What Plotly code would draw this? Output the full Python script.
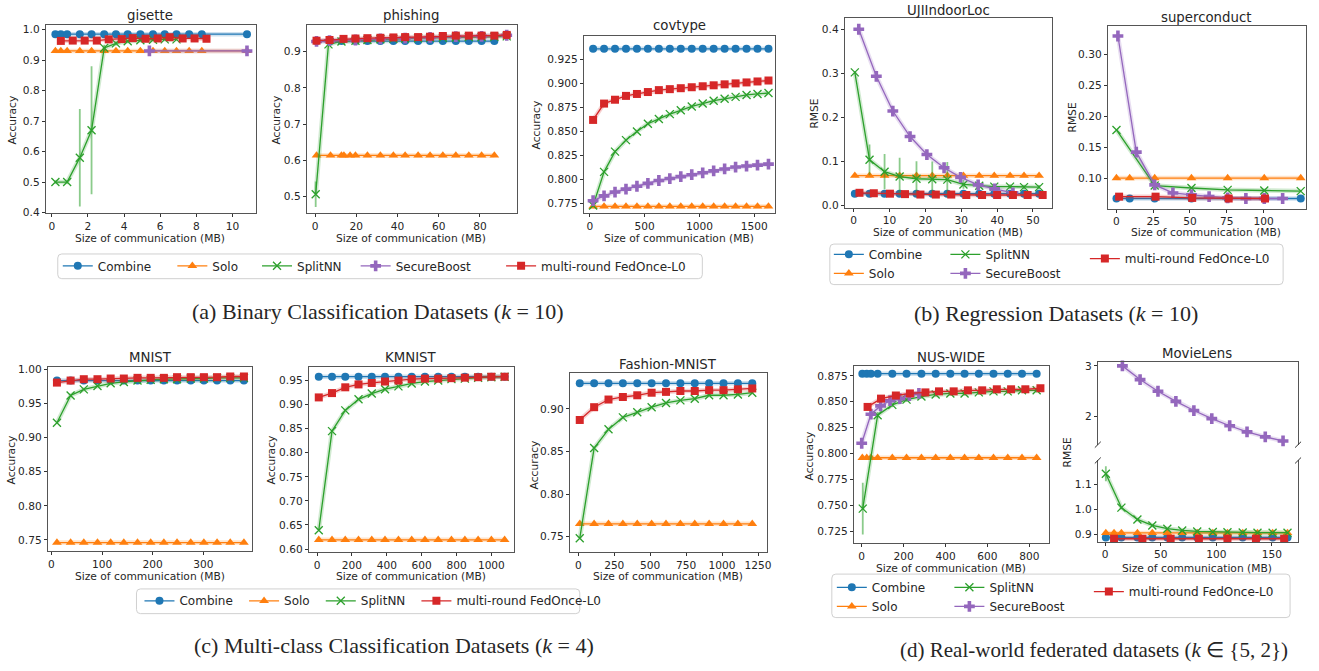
import plotly.graph_objects as go

W, H = 1319, 671
FONT = "DejaVu Sans"
SERIF = "Liberation Serif"
TXT = "#262626"

# ======================= data =======================
# ---- gisette ----
gisette_combine_x = [0.2, 0.5, 0.85, 1.55, 2.2, 2.9, 3.55, 4.2, 4.9, 5.6, 6.25, 6.9, 7.6, 8.3, 10.8]
gisette_combine_y = [0.985, 0.985, 0.985, 0.985, 0.985, 0.985, 0.985, 0.985, 0.985, 0.985, 0.985, 0.985, 0.985, 0.985, 0.985]
gisette_solo_x = [0.2, 0.5, 0.85, 1.55, 2.2, 2.9, 3.55, 4.2, 4.9, 5.6, 6.25, 6.9, 7.6, 8.3, 10.8]
gisette_solo_y = [0.93, 0.93, 0.93, 0.93, 0.93, 0.93, 0.93, 0.93, 0.93, 0.93, 0.93, 0.93, 0.93, 0.93, 0.93]
gisette_splitnn_x = [0.2, 0.85, 1.55, 2.2, 2.9, 3.55, 4.2, 4.9, 5.6, 6.25, 6.9]
gisette_splitnn_y = [0.5, 0.5, 0.58, 0.67, 0.94, 0.955, 0.962, 0.965, 0.967, 0.968, 0.968]
gisette_splitnn_err = [0.005, 0.005, 0.16, 0.21, 0.01, 0.006, 0.005, 0.005, 0.004, 0.004, 0.004]
gisette_secureboost_x = [5.4, 10.8]
gisette_secureboost_y = [0.93, 0.93]
gisette_fedonce_x = [0.5, 1.16, 1.82, 2.49, 3.15, 3.87, 4.48, 5.19, 5.86, 6.52, 7.24, 7.9, 8.56]
gisette_fedonce_y = [0.963, 0.964, 0.964, 0.964, 0.968, 0.969, 0.972, 0.970, 0.971, 0.975, 0.971, 0.971, 0.970]

# ---- phishing ----
phishing_combine_x = [0.7, 7.5, 12.8, 19.6, 25.4, 31.7, 38, 43.7, 50, 55.8, 62, 68.3, 74.6, 80.8, 87]
phishing_combine_y = [0.929, 0.929, 0.929, 0.929, 0.929, 0.929, 0.929, 0.929, 0.929, 0.929, 0.929, 0.929, 0.929, 0.929, 0.929]
phishing_solo_x = [0.7, 7.5, 12.8, 14, 17, 19.6, 25.4, 31.7, 38, 43.7, 50, 55.8, 62, 68.3, 74.6, 80.8, 87]
phishing_solo_y = [0.614, 0.614, 0.614, 0.614, 0.614, 0.614, 0.614, 0.614, 0.614, 0.614, 0.614, 0.614, 0.614, 0.614, 0.614, 0.614, 0.614]
phishing_splitnn_x = [0.3, 6.5, 12.8, 19.6, 25.4, 31.7, 38, 43.7, 50, 55.8, 62, 68.3, 74.6, 80.8, 87, 93]
phishing_splitnn_y = [0.507, 0.92, 0.928, 0.93, 0.932, 0.934, 0.935, 0.936, 0.937, 0.938, 0.938, 0.939, 0.94, 0.94, 0.941, 0.942]
phishing_splitnn_err = [0.035, 0.005, 0.003, 0.003, 0.003, 0.003, 0.003, 0.003, 0.003, 0.003, 0.003, 0.003, 0.003, 0.003, 0.003, 0.003]
phishing_secureboost_x = [0.7, 7, 19.6, 31.7, 43.7, 55.8, 68.3, 80.8, 93]
phishing_secureboost_y = [0.928, 0.93, 0.932, 0.935, 0.937, 0.939, 0.941, 0.942, 0.945]
phishing_fedonce_x = [0.7, 7, 13.8, 19.6, 25.4, 31.7, 38, 43.7, 50, 55.8, 62, 68.3, 74.6, 80.8, 87, 93]
phishing_fedonce_y = [0.93, 0.932, 0.935, 0.936, 0.937, 0.938, 0.939, 0.94, 0.94, 0.941, 0.943, 0.944, 0.944, 0.944, 0.944, 0.946]

# ---- covtype ----
covtype_x = [30, 130, 230, 330, 430, 530, 630, 730, 830, 930, 1030, 1130, 1230, 1330, 1430, 1530, 1630]
covtype_combine_y = [0.936, 0.936, 0.936, 0.936, 0.936, 0.936, 0.936, 0.936, 0.936, 0.936, 0.936, 0.936, 0.936, 0.936, 0.936, 0.936, 0.936]
covtype_solo_y = [0.772, 0.772, 0.772, 0.772, 0.772, 0.772, 0.772, 0.772, 0.772, 0.772, 0.772, 0.772, 0.772, 0.772, 0.772, 0.772, 0.772]
covtype_splitnn_y = [0.773, 0.808, 0.829, 0.841, 0.850, 0.858, 0.863, 0.868, 0.872, 0.876, 0.879, 0.882, 0.884, 0.886, 0.888, 0.889, 0.890]
covtype_secureboost_y = [0.778, 0.783, 0.787, 0.790, 0.793, 0.796, 0.799, 0.801, 0.803, 0.805, 0.807, 0.809, 0.811, 0.813, 0.814, 0.815, 0.816]
covtype_fedonce_y = [0.862, 0.879, 0.883, 0.887, 0.889, 0.891, 0.893, 0.894, 0.895, 0.896, 0.897, 0.898, 0.899, 0.900, 0.901, 0.902, 0.903]

# ---- UJIIndoorLoc ----
uji_x = [0.3, 4.4, 8.6, 12.8, 17.5, 21.9, 26.1, 30.6, 35.0, 39.2, 43.6, 47.5, 51.7]
uji_combine_y = [0.027, 0.027, 0.027, 0.027, 0.027, 0.027, 0.027, 0.027, 0.027, 0.027, 0.027, 0.027, 0.027]
uji_solo_y = [0.068, 0.068, 0.068, 0.068, 0.068, 0.068, 0.068, 0.068, 0.068, 0.068, 0.068, 0.068, 0.068]
uji_splitnn_y = [0.303, 0.104, 0.077, 0.066, 0.061, 0.060, 0.059, 0.048, 0.045, 0.043, 0.043, 0.042, 0.042]
uji_splitnn_err = [0.003, 0.035, 0.04, 0.043, 0.04, 0.04, 0.04, 0.01, 0.008, 0.006, 0.005, 0.005, 0.005]
uji_secureboost_x = [1.4, 6.3, 10.9, 15.7, 20.4, 25.2, 29.8, 34.7, 39.3, 44.4]
uji_secureboost_y = [0.401, 0.294, 0.215, 0.157, 0.116, 0.086, 0.064, 0.047, 0.038, 0.029]
uji_fedonce_x = [1.6, 5.6, 10.1, 14.3, 18.6, 22.9, 27.2, 31.4, 35.8, 40.0, 44.4, 48.5, 52.7]
uji_fedonce_y = [0.029, 0.028, 0.027, 0.026, 0.025, 0.025, 0.025, 0.024, 0.024, 0.024, 0.024, 0.024, 0.024]

# ---- superconduct ----
sc_x = [0, 9, 26, 51, 75.6, 100.5, 125.3]
sc_combine_y = [0.067, 0.067, 0.067, 0.067, 0.067, 0.067, 0.067]
sc_solo_y = [0.10, 0.10, 0.10, 0.10, 0.10, 0.10, 0.10]
sc_splitnn_x = [0, 26, 51, 75.6, 100.5, 125.3]
sc_splitnn_y = [0.178, 0.088, 0.084, 0.081, 0.080, 0.079]
sc_secureboost_x = [1, 13.5, 26, 38.4, 51, 63, 75.6, 88, 100.5, 113]
sc_secureboost_y = [0.33, 0.142, 0.089, 0.076, 0.073, 0.070, 0.068, 0.067, 0.067, 0.067]
sc_fedonce_x = [1.8, 26.6, 51.5, 76.3, 101]
sc_fedonce_y = [0.070, 0.070, 0.068, 0.067, 0.067]

# ---- MNIST ----
mnist_x = [11, 38, 64, 91, 117, 143, 170, 196, 222, 248, 275, 301, 327, 353, 380]
mnist_combine_y = [0.984, 0.984, 0.984, 0.984, 0.984, 0.984, 0.984, 0.984, 0.984, 0.984, 0.984, 0.984, 0.984, 0.984, 0.984]
mnist_solo_y = [0.746, 0.746, 0.746, 0.746, 0.746, 0.746, 0.746, 0.746, 0.746, 0.746, 0.746, 0.746, 0.746, 0.746, 0.746]
mnist_splitnn_y = [0.922, 0.962, 0.971, 0.976, 0.980, 0.982, 0.984, 0.985, 0.986, 0.986, 0.987, 0.987, 0.988, 0.988, 0.988]
mnist_fedonce_y = [0.981, 0.984, 0.986, 0.986, 0.987, 0.987, 0.988, 0.988, 0.988, 0.989, 0.989, 0.989, 0.989, 0.990, 0.990]

# ---- KMNIST ----
kmnist_x = [10, 86, 162, 238, 314, 390, 467, 543, 619, 695, 771, 848, 924, 1000, 1076]
kmnist_combine_y = [0.958, 0.958, 0.958, 0.958, 0.958, 0.958, 0.958, 0.958, 0.958, 0.958, 0.958, 0.958, 0.958, 0.958, 0.958]
kmnist_solo_y = [0.619, 0.619, 0.619, 0.619, 0.619, 0.619, 0.619, 0.619, 0.619, 0.619, 0.619, 0.619, 0.619, 0.619, 0.619]
kmnist_splitnn_y = [0.639, 0.845, 0.888, 0.911, 0.923, 0.932, 0.938, 0.944, 0.948, 0.950, 0.953, 0.954, 0.956, 0.957, 0.958]
kmnist_fedonce_y = [0.915, 0.924, 0.936, 0.942, 0.945, 0.948, 0.950, 0.953, 0.954, 0.954, 0.955, 0.956, 0.957, 0.958, 0.958]

# ---- Fashion-MNIST ----
fmnist_x = [10, 110, 210, 310, 410, 510, 610, 710, 810, 910, 1010, 1110, 1210]
fmnist_combine_y = [0.930, 0.930, 0.930, 0.930, 0.930, 0.930, 0.930, 0.930, 0.930, 0.930, 0.930, 0.930, 0.930]
fmnist_solo_y = [0.765, 0.765, 0.765, 0.765, 0.765, 0.765, 0.765, 0.765, 0.765, 0.765, 0.765, 0.765, 0.765]
fmnist_splitnn_y = [0.748, 0.854, 0.876, 0.890, 0.896, 0.902, 0.907, 0.910, 0.912, 0.916, 0.916, 0.917, 0.919]
fmnist_fedonce_y = [0.887, 0.902, 0.911, 0.914, 0.916, 0.919, 0.920, 0.921, 0.921, 0.922, 0.922, 0.923, 0.924]

# ---- NUS-WIDE ----
nus_x = [3, 24, 44, 76, 146, 214, 285, 353, 423, 491, 559, 629, 697, 765, 835]
nus_combine_y = [0.877, 0.877, 0.877, 0.877, 0.877, 0.877, 0.877, 0.877, 0.877, 0.877, 0.877, 0.877, 0.877, 0.877, 0.877]
nus_solo_y = [0.796, 0.796, 0.796, 0.796, 0.796, 0.796, 0.796, 0.796, 0.796, 0.796, 0.796, 0.796, 0.796, 0.796, 0.796]
nus_splitnn_x = [5, 76, 146, 214, 285, 353, 423, 491, 559, 629, 697, 765, 835]
nus_splitnn_y = [0.747, 0.837, 0.847, 0.852, 0.855, 0.857, 0.858, 0.858, 0.859, 0.860, 0.860, 0.861, 0.861]
nus_splitnn_err = [0.025, 0.003, 0.002, 0.002, 0.002, 0.002, 0.002, 0.002, 0.002, 0.002, 0.002, 0.002, 0.002]
nus_secureboost_x = [0, 44, 90, 135, 182, 227, 273]
nus_secureboost_y = [0.810, 0.838, 0.846, 0.851, 0.853, 0.856, 0.858]
nus_fedonce_x = [28, 92, 163, 230, 304, 369, 439, 507, 575, 645, 713, 781, 853]
nus_fedonce_y = [0.845, 0.853, 0.856, 0.858, 0.859, 0.860, 0.860, 0.861, 0.861, 0.862, 0.862, 0.862, 0.863]

# ---- MovieLens ----
ml_secureboost_x = [15.5, 31.4, 47.5, 63.6, 79.8, 95.9, 112, 127.6, 144, 160]
ml_secureboost_y = [3.0, 2.73, 2.5, 2.3, 2.12, 1.96, 1.82, 1.70, 1.60, 1.52]
ml_splitnn_x = [0.6, 14.6, 29, 42.4, 55.9, 69.3, 82.8, 96.8, 110, 123.7, 137, 150.6, 164]
ml_splitnn_y = [1.143, 1.008, 0.961, 0.937, 0.924, 0.917, 0.913, 0.911, 0.910, 0.909, 0.908, 0.908, 0.908]
ml_splitnn_err = [0.03, 0.006, 0.004, 0.003, 0.003, 0.002, 0.002, 0.002, 0.002, 0.002, 0.002, 0.002, 0.002]
ml_solo_x = [0.6, 8, 14.6, 29, 42.4, 55.9, 69.3, 82.8, 96.8, 110, 123.7, 137, 150.6, 164]
ml_solo_y = [0.907, 0.907, 0.907, 0.907, 0.907, 0.907, 0.907, 0.907, 0.907, 0.907, 0.907, 0.907, 0.907, 0.907]
ml_combine_x = [0.6, 14.6, 29, 42.4, 55.9, 69.3, 82.8, 96.8, 110, 123.7, 137, 150.6, 164]
ml_combine_y = [0.889, 0.889, 0.889, 0.889, 0.889, 0.889, 0.889, 0.889, 0.889, 0.889, 0.889, 0.889, 0.889]
ml_fedonce_x = [8, 33.5, 58.9, 84.3, 110, 135.6, 161]
ml_fedonce_y = [0.884, 0.884, 0.884, 0.884, 0.884, 0.884, 0.884]

# ---- tick labels ----
gis_xt = [0, 2, 4, 6, 8, 10]
gis_yt = [0.4, 0.5, 0.6, 0.7, 0.8, 0.9, 1.0]
gis_ytt = ["0.4", "0.5", "0.6", "0.7", "0.8", "0.9", "1.0"]
phi_xt = [0, 20, 40, 60, 80]
phi_yt = [0.5, 0.6, 0.7, 0.8, 0.9]
phi_ytt = ["0.5", "0.6", "0.7", "0.8", "0.9"]
cov_xt = [0, 500, 1000, 1500]
cov_yt = [0.775, 0.8, 0.825, 0.85, 0.875, 0.9, 0.925]
cov_ytt = ["0.775", "0.800", "0.825", "0.850", "0.875", "0.900", "0.925"]
uji_xt = [0, 10, 20, 30, 40, 50]
uji_yt = [0.0, 0.1, 0.2, 0.3, 0.4]
uji_ytt = ["0.0", "0.1", "0.2", "0.3", "0.4"]
sc_xt = [0, 25, 50, 75, 100]
sc_yt = [0.10, 0.15, 0.20, 0.25, 0.30]
sc_ytt = ["0.10", "0.15", "0.20", "0.25", "0.30"]
mn_xt = [0, 100, 200, 300]
mn_yt = [0.75, 0.80, 0.85, 0.90, 0.95, 1.00]
mn_ytt = ["0.75", "0.80", "0.85", "0.90", "0.95", "1.00"]
km_xt = [0, 200, 400, 600, 800, 1000]
km_yt = [0.60, 0.65, 0.70, 0.75, 0.80, 0.85, 0.90, 0.95]
km_ytt = ["0.60", "0.65", "0.70", "0.75", "0.80", "0.85", "0.90", "0.95"]
fm_xt = [0, 250, 500, 750, 1000, 1250]
fm_yt = [0.75, 0.80, 0.85, 0.90]
fm_ytt = ["0.75", "0.80", "0.85", "0.90"]
nus_xt = [0, 200, 400, 600, 800]
nus_yt = [0.725, 0.75, 0.775, 0.8, 0.825, 0.85, 0.875]
nus_ytt = ["0.725", "0.750", "0.775", "0.800", "0.825", "0.850", "0.875"]
ml_xt = [0, 50, 100, 150]
ml_top_yt = [2, 3]
ml_top_ytt = ["2", "3"]
ml_bot_yt = [0.9, 1.0, 1.1]
ml_bot_ytt = ["0.9", "1.0", "1.1"]

# ======================= styling =======================
STYLE = {
    "Combine": dict(color="#1f77b4", rgb="31,119,180", symbol="circle", size=8),
    "Solo": dict(color="#ff7f0e", rgb="255,127,14", symbol="triangle-up", size=8.5),
    "SplitNN": dict(color="#2ca02c", rgb="44,160,44", symbol="x-thin", size=8),
    "SecureBoost": dict(color="#9467bd", rgb="148,103,189", symbol="cross", size=9),
    "multi-round FedOnce-L0": dict(color="#d62728", rgb="214,39,40", symbol="square", size=8),
}


def fx(px):
    return px / W


def fy(py):
    return 1 - py / H


fig = go.Figure()
annotations = []
shapes = []
layout_axes = {}
layout_legends = {}


def ax_id(i):
    return "" if i == 1 else str(i)


def add_series(i, method, x, y, err=None, legend=None):
    st = STYLE[method]
    xa, ya = "x" + ax_id(i), "y" + ax_id(i)
    # faint band behind the line (shaded spread in the original)
    fig.add_trace(go.Scatter(x=x, y=y, mode="lines", xaxis=xa, yaxis=ya,
                             line=dict(color=f"rgba({st['rgb']},0.22)", width=4.5),
                             hoverinfo="skip", showlegend=False, cliponaxis=False))
    mk = dict(symbol=st["symbol"], size=st["size"], color=st["color"])
    if st["symbol"] == "x-thin":
        mk["line"] = dict(color=st["color"], width=1.3)
    else:
        mk["line"] = dict(width=0)
    kw = dict(x=x, y=y, mode="lines+markers", name=method, xaxis=xa, yaxis=ya,
              line=dict(color=st["color"], width=1.3), marker=mk,
              cliponaxis=False, showlegend=legend is not None,
              legend=legend if legend else "legend")
    if err is not None:
        kw["error_y"] = dict(type="data", array=err, visible=True,
                             color="rgba(44,160,44,0.55)", thickness=1.8, width=0)
    fig.add_trace(go.Scatter(**kw))


def add_axes(i, box, xr, yr, xtv, ytv, ytt, xside="bottom",
             xmirror=True, xticks=True, showxlabels=True):
    l, r, t, b = box
    tick = dict(ticks="outside", ticklen=3, tickwidth=0.8, tickcolor="#333",
                tickfont=dict(family=FONT, size=10.6, color=TXT),
                showgrid=False, zeroline=False, linecolor="#555", linewidth=1)
    xa = dict(domain=[fx(l), fx(r)], range=list(xr), anchor="y" + ax_id(i),
              tickmode="array", tickvals=xtv, side=xside, showline=True,
              mirror=xmirror, **tick)
    if not xticks:
        xa["ticks"] = ""
    xa["showticklabels"] = showxlabels
    ya = dict(domain=[fy(b), fy(t)], range=list(yr), anchor="x" + ax_id(i),
              tickmode="array", tickvals=ytv, ticktext=ytt, showline=True,
              mirror=True, **tick)
    layout_axes["xaxis" + ax_id(i)] = xa
    layout_axes["yaxis" + ax_id(i)] = ya


def text(s, x, y, size=10.7, angle=0, family=FONT):
    annotations.append(dict(text=s, x=fx(x), y=fy(y), xref="paper", yref="paper",
                            showarrow=False, textangle=angle, xanchor="center",
                            yanchor="middle", font=dict(family=family, size=size, color=TXT)))


XLAB = "Size of communication (MB)"

# ---------------- panels ----------------
# 1 gisette
add_axes(1, (46, 257, 22, 213), (-0.33, 11.3), (0.397, 1.016), gis_xt, gis_yt, gis_ytt)
text("gisette", 151, 13, 13.3)
text("Accuracy", 13, 118, angle=-90)
text(XLAB, 151, 238.5)
add_series(1, "Combine", gisette_combine_x, gisette_combine_y, legend="legend")
add_series(1, "Solo", gisette_solo_x, gisette_solo_y, legend="legend2")
add_series(1, "SplitNN", gisette_splitnn_x, gisette_splitnn_y, gisette_splitnn_err, legend="legend3")
add_series(1, "SecureBoost", gisette_secureboost_x, gisette_secureboost_y, legend="legend4")
add_series(1, "multi-round FedOnce-L0", gisette_fedonce_x, gisette_fedonce_y, legend="legend5")

# 2 phishing
add_axes(2, (308, 519, 22, 213), (-4, 98), (0.454, 0.974), phi_xt, phi_yt, phi_ytt)
text("phishing", 413, 13, 13.3)
text("Accuracy", 278, 118, angle=-90)
text(XLAB, 413, 238.5)
add_series(2, "Combine", phishing_combine_x, phishing_combine_y)
add_series(2, "Solo", phishing_solo_x, phishing_solo_y)
add_series(2, "SplitNN", phishing_splitnn_x, phishing_splitnn_y, phishing_splitnn_err)
add_series(2, "SecureBoost", phishing_secureboost_x, phishing_secureboost_y)
add_series(2, "multi-round FedOnce-L0", phishing_fedonce_x, phishing_fedonce_y)

# 3 covtype
add_axes(3, (586, 778, 33, 213), (-55, 1690), (0.7647, 0.9497), cov_xt, cov_yt, cov_ytt)
text("covtype", 682, 23, 13.3)
text("Accuracy", 539, 123, angle=-90)
text(XLAB, 682, 238.5)
add_series(3, "Combine", covtype_x, covtype_combine_y)
add_series(3, "Solo", covtype_x, covtype_solo_y)
add_series(3, "SplitNN", covtype_x, covtype_splitnn_y)
add_series(3, "SecureBoost", covtype_x, covtype_secureboost_y)
add_series(3, "multi-round FedOnce-L0", covtype_x, covtype_fedonce_y)

# 4 UJIIndoorLoc
add_axes(4, (848, 1056, 15, 207), (-2.5, 55.3), (-0.0045, 0.427), uji_xt, uji_yt, uji_ytt)
text("UJIIndoorLoc", 952, 8, 13.3)
text("RMSE", 818, 112, angle=-90)
text(XLAB, 952, 232)
add_series(4, "Combine", uji_x, uji_combine_y, legend="legend10")
add_series(4, "Solo", uji_x, uji_solo_y, legend="legend10")
add_series(4, "SplitNN", uji_x, uji_splitnn_y, uji_splitnn_err, legend="legend11")
add_series(4, "SecureBoost", uji_secureboost_x, uji_secureboost_y, legend="legend11")
add_series(4, "multi-round FedOnce-L0", uji_fedonce_x, uji_fedonce_y, legend="legend12")

# 5 superconduct
add_axes(5, (1112, 1311, 23, 208), (-5.9, 128.9), (0.0508, 0.3466), sc_xt, sc_yt, sc_ytt)
text("superconduct", 1211, 15, 13.3)
text("RMSE", 1077, 116, angle=-90)
text(XLAB, 1211, 232)
add_series(5, "Combine", sc_x, sc_combine_y)
add_series(5, "Solo", sc_x, sc_solo_y)
add_series(5, "SplitNN", sc_splitnn_x, sc_splitnn_y)
add_series(5, "SecureBoost", sc_secureboost_x, sc_secureboost_y)
add_series(5, "multi-round FedOnce-L0", sc_fedonce_x, sc_fedonce_y)

# 6 MNIST
add_axes(6, (48, 253, 368, 555), (-7, 396), (0.733, 1.0045), mn_xt, mn_yt, mn_ytt)
text("MNIST", 151, 359, 13.3)
text("Accuracy", 12, 462, angle=-90)
text(XLAB, 151, 580.5)
add_series(6, "Combine", mnist_x, mnist_combine_y, legend="legend6")
add_series(6, "Solo", mnist_x, mnist_solo_y, legend="legend7")
add_series(6, "SplitNN", mnist_x, mnist_splitnn_y, legend="legend8")
add_series(6, "multi-round FedOnce-L0", mnist_x, mnist_fedonce_y, legend="legend9")

# 7 KMNIST
add_axes(7, (310, 516, 368, 556), (-47, 1130), (0.593, 0.979), km_xt, km_yt, km_ytt)
text("KMNIST", 413, 359, 13.3)
text("Accuracy", 273, 462, angle=-90)
text(XLAB, 413, 580.5)
add_series(7, "Combine", kmnist_x, kmnist_combine_y)
add_series(7, "Solo", kmnist_x, kmnist_solo_y)
add_series(7, "SplitNN", kmnist_x, kmnist_splitnn_y)
add_series(7, "multi-round FedOnce-L0", kmnist_x, kmnist_fedonce_y)

# 8 Fashion-MNIST
add_axes(8, (572, 770, 374, 556), (-59, 1313), (0.7315, 0.9427), fm_xt, fm_yt, fm_ytt)
text("Fashion-MNIST", 671, 366, 13.3)
text("Accuracy", 536, 467, angle=-90)
text(XLAB, 671, 580.5)
add_series(8, "Combine", fmnist_x, fmnist_combine_y)
add_series(8, "Solo", fmnist_x, fmnist_solo_y)
add_series(8, "SplitNN", fmnist_x, fmnist_splitnn_y)
add_series(8, "multi-round FedOnce-L0", fmnist_x, fmnist_fedonce_y)

# 9 NUS-WIDE
add_axes(9, (857, 1053, 367, 547), (-38, 894), (0.7134, 0.8848), nus_xt, nus_yt, nus_ytt)
text("NUS-WIDE", 955, 359, 13.3)
text("Accuracy", 813, 458, angle=-90)
text(XLAB, 955, 572)
add_series(9, "Combine", nus_x, nus_combine_y, legend="legend13")
add_series(9, "Solo", nus_x, nus_solo_y, legend="legend13")
add_series(9, "SplitNN", nus_splitnn_x, nus_splitnn_y, nus_splitnn_err, legend="legend14")
add_series(9, "SecureBoost", nus_secureboost_x, nus_secureboost_y, legend="legend14")
add_series(9, "multi-round FedOnce-L0", nus_fedonce_x, nus_fedonce_y, legend="legend15")

# 10/11 MovieLens (broken axis)
add_axes(10, (1102, 1303, 363, 447), (-6.6, 173.5), (1.447, 3.083), ml_xt, ml_top_yt,
         ml_top_ytt, xside="top", xmirror=False, xticks=False, showxlabels=False)
add_axes(11, (1102, 1303, 463, 545), (-6.6, 173.5), (0.873, 1.196), ml_xt, ml_bot_yt,
         ml_bot_ytt, xmirror=False)
text("MovieLens", 1202, 355, 13.3)
text("RMSE", 1072, 455, angle=-90)
text(XLAB, 1202, 572)
add_series(10, "SecureBoost", ml_secureboost_x, ml_secureboost_y)
add_series(11, "Combine", ml_combine_x, ml_combine_y)
add_series(11, "Solo", ml_solo_x, ml_solo_y)
add_series(11, "SplitNN", ml_splitnn_x, ml_splitnn_y, ml_splitnn_err)
add_series(11, "multi-round FedOnce-L0", ml_fedonce_x, ml_fedonce_y)

for (bx, by) in [(1102, 447), (1303, 447), (1102, 463), (1303, 463)]:
    shapes.append(dict(type="line", xref="paper", yref="paper",
                       x0=fx(bx - 3), y0=fy(by + 3), x1=fx(bx + 3), y1=fy(by - 3),
                       line=dict(color="#333", width=1)))


# ---------------- legends ----------------
def legend_at(name, sym_px, row_px, orient="v"):
    layout_legends[name] = dict(
        x=fx(sym_px - 5), y=fy(row_px), xanchor="left", yanchor="middle",
        orientation=orient, bgcolor="rgba(0,0,0,0)", borderwidth=0,
        font=dict(family=FONT, size=12, color=TXT), tracegroupgap=0,
        itemclick=False, itemdoubleclick=False)


# (a)
for nm, sx in [("legend", 63), ("legend2", 178), ("legend3", 263), ("legend4", 362), ("legend5", 508)]:
    legend_at(nm, sx, 266)
# (c)
for nm, sx in [("legend6", 145), ("legend7", 250), ("legend8", 327), ("legend9", 423)]:
    legend_at(nm, sx, 605)
# (b) columns
for nm, sx in [("legend10", 837), ("legend11", 954), ("legend12", 1094)]:
    legend_at(nm, sx, 264)
# (d) columns
for nm, sx in [("legend13", 840), ("legend14", 958), ("legend15", 1098)]:
    legend_at(nm, sx, 601)
layout_legends["legend12"]["yanchor"] = "top"
layout_legends["legend12"]["y"] = fy(244)
layout_legends["legend15"]["yanchor"] = "top"
layout_legends["legend15"]["y"] = fy(581)


def rrect(x0, y0, x1, y1, r=4):
    X = fx
    Y = fy
    p = (f"M {X(x0 + r)},{Y(y0)} L {X(x1 - r)},{Y(y0)} Q {X(x1)},{Y(y0)} {X(x1)},{Y(y0 + r)} "
         f"L {X(x1)},{Y(y1 - r)} Q {X(x1)},{Y(y1)} {X(x1 - r)},{Y(y1)} "
         f"L {X(x0 + r)},{Y(y1)} Q {X(x0)},{Y(y1)} {X(x0)},{Y(y1 - r)} "
         f"L {X(x0)},{Y(y0 + r)} Q {X(x0)},{Y(y0)} {X(x0 + r)},{Y(y0)} Z")
    return dict(type="path", path=p, xref="paper", yref="paper",
                line=dict(color="#d0d0d0", width=1), layer="below")


shapes.append(rrect(58, 254, 705, 279))
shapes.append(rrect(137, 593, 582, 618))
shapes.append(rrect(833, 244, 1288, 285))
shapes.append(rrect(835, 578, 1295, 622))

# ---------------- captions ----------------
text("(a) Binary Classification Datasets (<i>k</i> = 10)", 379, 312, 22, family=SERIF)
text("(b) Regression Datasets (<i>k</i> = 10)", 1060, 314, 22, family=SERIF)
text("(c) Multi-class Classification Datasets (<i>k</i> = 4)", 395, 650, 22, family=SERIF)
text("(d) Real-world federated datasets (<i>k</i> ∈ {5, 2})", 1098, 655, 21, family=SERIF)

fig.update_layout(
    width=W, height=H, margin=dict(l=0, r=0, t=0, b=0),
    paper_bgcolor="white", plot_bgcolor="white",
    font=dict(family=FONT, size=10.7, color=TXT),
    annotations=annotations, shapes=shapes,
    **layout_axes, **layout_legends,
)

fig.write_html("out.html", config={"displayModeBar": False},
               post_script="document.body.style.margin='0px';document.body.style.overflow='hidden';")
